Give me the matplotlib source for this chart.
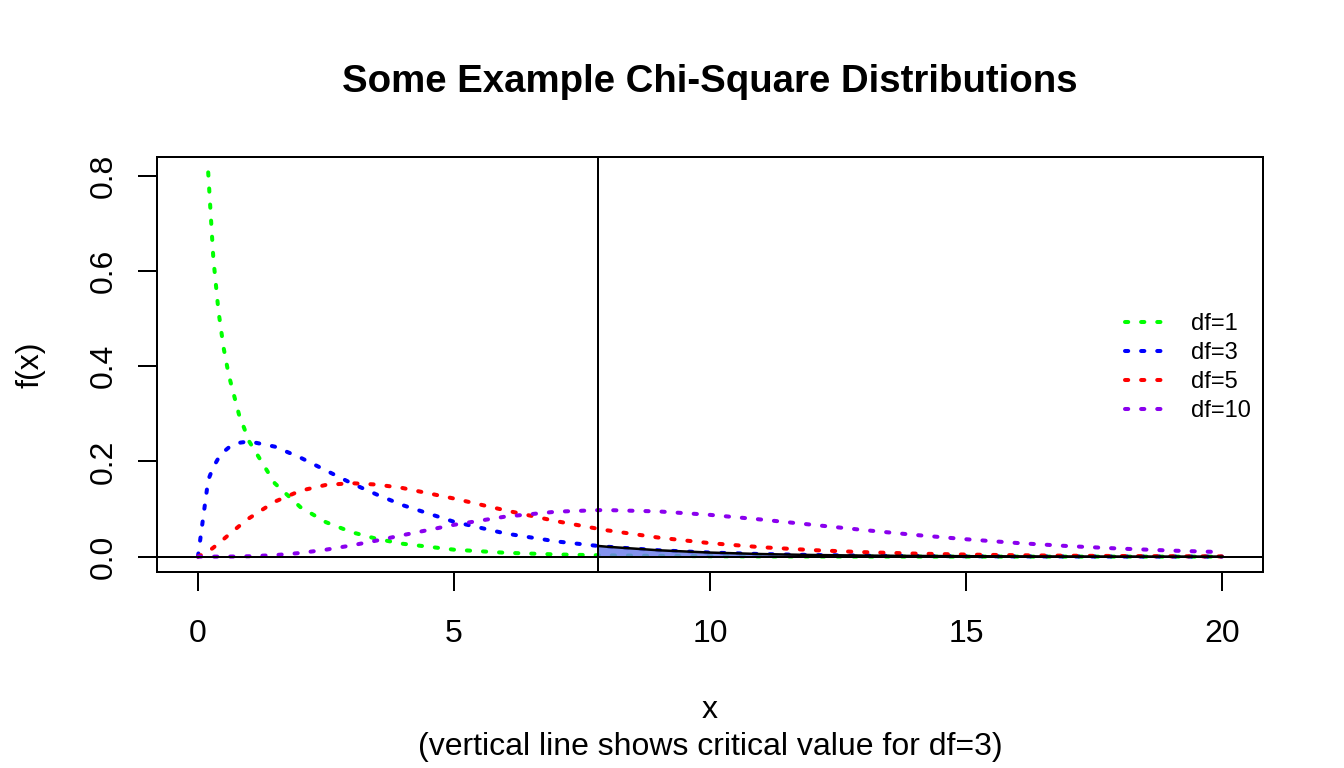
import numpy as np
import matplotlib
matplotlib.use("Agg")
import matplotlib.pyplot as plt

plt.rcParams['font.family'] = ['Liberation Sans', 'DejaVu Sans']

# x grid and density values
x_vals = [0, 0.2, 0.3, 0.4, 0.5, 0.6, 0.8, 1.0, 1.5, 2, 2.5, 3, 3.5, 4, 5, 6, 7,
          7.815, 8, 9, 10, 11, 12, 13, 14, 15, 16, 17, 18, 19, 20]
df1_vals = [np.nan, 0.807, 0.627, 0.516, 0.439, 0.382, 0.299, 0.242, 0.154, 0.104,
            0.0723, 0.0514, 0.0371, 0.0270, 0.0146, 0.0081, 0.0046, 0.0029, 0.0026,
            0.0015, 0.00085, 0.00049, 0.00029, 0.00017, 0.0001, 0.00006, 0.00003,
            0.00002, 0.00001, 0.00001, 0.000004]
df3_vals = [0, 0.161, 0.188, 0.207, 0.220, 0.229, 0.239, 0.242, 0.231, 0.208, 0.181,
            0.154, 0.130, 0.108, 0.0732, 0.0487, 0.0319, 0.0224, 0.0207, 0.0133,
            0.0085, 0.0054, 0.0034, 0.0022, 0.0014, 0.00086, 0.00054, 0.00034,
            0.00021, 0.00013, 0.00008]
df5_vals = [0, 0.0108, 0.0188, 0.0276, 0.0366, 0.0458, 0.0638, 0.0807, 0.1154, 0.1384,
            0.1506, 0.1542, 0.1513, 0.1440, 0.1220, 0.0973, 0.0744, 0.0584, 0.0551,
            0.0399, 0.0283, 0.0198, 0.0137, 0.0094, 0.0064, 0.0043, 0.0029, 0.0019,
            0.0013, 0.0008, 0.0005]
df10_vals = [0, 0.000002, 0.000009, 0.000027, 0.000063, 0.000125, 0.000357, 0.00079,
             0.00311, 0.00766, 0.01457, 0.02353, 0.03396, 0.04511, 0.0668, 0.0840,
             0.0944, 0.0976, 0.0977, 0.0949, 0.0877, 0.0779, 0.0669, 0.0559, 0.0456,
             0.0365, 0.0286, 0.0221, 0.0169, 0.0127, 0.0095]
series = [("df=1", df1_vals, "#00ff00"),
          ("df=3", df3_vals, "#0000ff"),
          ("df=5", df5_vals, "#ff0000"),
          ("df=10", df10_vals, "#8a00ee")]
crit_value = 7.815

x_ticks = [0, 5, 10, 15, 20]
y_ticks = [0.0, 0.2, 0.4, 0.6, 0.8]
y_tick_labels = ["0.0", "0.2", "0.4", "0.6", "0.8"]

W, H = 1344, 768
fig = plt.figure(figsize=(W / 100, H / 100), dpi=100)
ax = fig.add_axes([157 / W, 1 - 572 / H, (1263 - 157) / W, (572 - 157) / H])

x = np.array(x_vals)
for label, vals, color in series:
    ax.plot(x, vals, color=color, lw=2.9, linestyle=(0, (0.8, 3.2)),
            dash_capstyle='round', label=label)

# shaded tail of df=3 beyond the critical value
df3 = np.array(df3_vals)
mask = x >= crit_value
ax.fill_between(x[mask], 0, df3[mask], facecolor='#6d7fec', alpha=0.85,
                edgecolor='none', zorder=3)
ax.plot(x[mask], df3[mask], color='black', lw=1.8, zorder=4)

ax.axvline(crit_value, color='black', lw=1.44, zorder=5)
ax.axhline(0, color='black', lw=1.44, zorder=5)

ax.set_xlim(-0.8, 20.8)
ax.set_ylim(-0.0323, 0.8393)
ax.set_xticks(x_ticks)
ax.set_yticks(y_ticks)
ax.set_yticklabels(y_tick_labels, rotation=90, va='center')
ax.tick_params(axis='both', direction='out', length=13.7, width=1.44, labelsize=23)
ax.tick_params(axis='x', pad=20)
ax.tick_params(axis='y', pad=14)
for sp in ax.spines.values():
    sp.set_linewidth(1.44)

ax.legend(loc='center left', bbox_to_anchor=((1125 - 157) / 1106, (572 - 367.5) / 415),
          frameon=False, fontsize=17, handlelength=1.7, handletextpad=1.1,
          labelspacing=0.3, borderpad=0, borderaxespad=0)

fig.text(710 / W, 1 - 92 / H, "Some Example Chi-Square Distributions",
         ha='center', va='baseline', fontsize=27.6, fontweight='bold')
fig.text(710 / W, 1 - 718 / H, "x", ha='center', va='baseline', fontsize=23)
fig.text(710 / W, 1 - 755 / H, "(vertical line shows critical value for df=3)",
         ha='center', va='baseline', fontsize=23)
fig.text(30 / W, 1 - 364.5 / H, "f(x)", rotation=90, ha='center', va='center', fontsize=23)

fig.savefig("out.png", dpi=100)
